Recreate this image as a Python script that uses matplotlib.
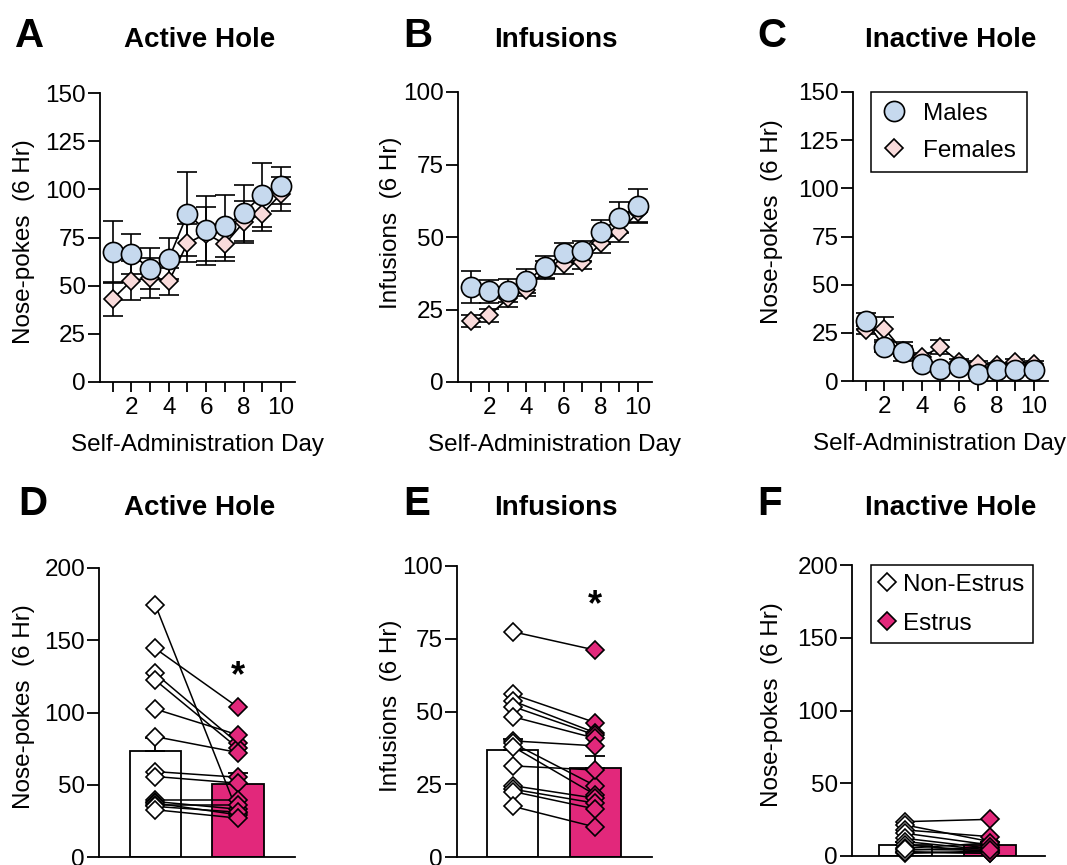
import numpy as np
import matplotlib.pyplot as plt
from matplotlib.lines import Line2D

plt.rcParams['font.family'] = ['Liberation Sans', 'DejaVu Sans']

W, H = 1067, 865

days = np.arange(1, 11)

# A - active hole (males / females), mean and SEM
active_m = [67.5, 66.4, 58.8, 64.0, 87.2, 78.7, 80.8, 87.7, 97.2, 101.9]
active_m_sem = [16.0, 10.4, 10.7, 10.7, 21.8, 18.0, 16.0, 14.7, 16.5, 9.7]
active_f = [43.1, 52.6, 54.0, 52.2, 72.1, 77.0, 71.6, 82.9, 87.4, 97.6]
active_f_sem = [8.7, 10.0, 10.4, 7.2, 10.0, 14.0, 9.0, 11.0, 9.2, 9.0]

# B - infusions
inf_m = [32.8, 31.3, 31.5, 34.8, 39.7, 44.4, 45.2, 51.8, 56.7, 60.8]
inf_m_sem = [5.6, 4.0, 3.9, 4.0, 3.8, 3.6, 3.4, 4.1, 5.3, 5.8]
inf_f = [21.0, 23.0, 28.8, 31.7, 38.6, 40.7, 41.5, 47.8, 51.8, 58.5]
inf_f_sem = [2.0, 2.2, 2.9, 2.1, 3.2, 3.6, 2.7, 3.2, 3.6, 3.2]

# C - inactive hole
inact_m = [31.2, 17.7, 15.1, 9.0, 6.4, 7.3, 3.8, 5.5, 5.9, 5.9]
inact_m_sem = [4.0, 2.5, 4.9, 2.0, 1.5, 1.5, 1.0, 1.2, 1.2, 1.2]
inact_f = [26.5, 27.2, 15.5, 12.5, 17.7, 9.9, 9.0, 8.1, 9.9, 9.0]
inact_f_sem = [2.0, 6.0, 2.5, 2.0, 3.5, 1.5, 1.5, 1.5, 1.5, 1.5]

# D-F - females by cycle phase, paired animals
groups = ['Non-Estrus', 'Estrus']
active_non = [174.7, 144.3, 127.0, 122.4, 102.4, 83.3, 59.1, 55.7, 39.6, 38.4, 37.3, 36.0, 35.0, 32.7]
active_est = [30.4, 103.6, 78.7, 75.3, 84.5, 72.3, 55.2, 51.1, 39.6, 33.1, 29.2, 36.0, 31.0, 26.9]
active_bar = [73.6, 50.4]
active_bar_sem = [9.0, 7.6]

inf_non = [77.4, 55.9, 53.6, 51.7, 48.2, 39.9, 39.1, 37.9, 31.3, 24.5, 23.3, 22.5, 17.4]
inf_est = [71.1, 46.2, 42.7, 41.9, 40.8, 38.2, 24.5, 21.4, 29.9, 20.2, 18.5, 16.5, 10.3]
inf_bar = [36.6, 30.5]
inf_bar_sem = [4.0, 4.2]

inact_non = [23.6, 21.3, 17.9, 15.6, 12.1, 9.9, 7.6, 5.3, 4.1, 3.0, 1.8, 2.5, 4.5]
inact_est = [25.2, 9.9, 13.3, 7.6, 5.3, 4.1, 3.0, 9.0, 6.0, 1.8, 3.5, 2.0, 4.0]
inact_bar = [7.6, 7.6]
inact_bar_sem = [2.0, 2.0]

blue = '#c6d9ee'
lpink = '#f9dbdb'
pink = '#e2287b'
FS = 17.5


def box(l, r, top, bot):
    return [l / W, 1 - bot / H, (r - l) / W, (bot - top) / H]


def style(ax, ymax, ystep):
    for s in ['top', 'right']:
        ax.spines[s].set_visible(False)
    for s in ['left', 'bottom']:
        ax.spines[s].set_linewidth(1.3)
    ax.set_ylim(0, ymax)
    ax.set_yticks(np.arange(0, ymax + 1, ystep))
    ax.tick_params(axis='y', length=8.5, width=1.3, pad=1.5, labelsize=FS)
    ax.tick_params(axis='x', length=7, width=1.3, pad=3.5, labelsize=FS)


def time_panel(ax, m, msem, f, fsem, ymax, ylab, lab_xy, xlab_x=0.5):
    style(ax, ymax, 25)
    ax.set_xlim(0.32, 10.75)
    ax.set_xticks(days)
    ax.set_xticklabels(['' if d % 2 else str(d) for d in days])
    ax.errorbar(days, f, yerr=fsem, fmt='none', ecolor='black', elinewidth=1.2,
                capsize=7.5, capthick=1.2, zorder=2)
    ax.errorbar(days, m, yerr=msem, fmt='none', ecolor='black', elinewidth=1.2,
                capsize=7.5, capthick=1.2, zorder=2)
    ax.plot(days, f, color='black', lw=1.2, marker='D', ms=9.3, mfc=lpink,
            mec='black', mew=1.2, zorder=3, clip_on=False)
    ax.plot(days, m, color='black', lw=1.2, marker='o', ms=14.5, mfc=blue,
            mec='black', mew=1.2, zorder=4, clip_on=False)
    ax.set_ylabel(ylab, fontsize=FS)
    ax.yaxis.set_label_coords(*lab_xy)
    ax.set_xlabel('Self-Administration Day', fontsize=FS, va='top')
    ax.xaxis.set_label_coords(xlab_x, -0.18)


def pair_panel(ax, non, est, bar, sem, ymax, ystep, ylab, lab_xy, xlim):
    style(ax, ymax, ystep)
    ax.set_xlim(*xlim)
    ax.set_xticks([])
    x = [1, 2]
    ax.bar(x, bar, width=0.62, color=['white', pink], edgecolor='black',
           linewidth=1.3, zorder=1)
    ax.errorbar(x, bar, yerr=[[0, 0], sem], fmt='none', ecolor='black',
                elinewidth=1.3, capsize=7, capthick=1.3, zorder=2)
    for a, b in zip(non, est):
        ax.plot(x, [a, b], color='black', lw=1.1, zorder=3)
    ax.plot(np.ones(len(non)), non, ls='none', marker='D', ms=9.3, mfc='white',
            mec='black', mew=1.2, zorder=4, clip_on=False)
    ax.plot(np.full(len(est), 2), est, ls='none', marker='D', ms=9.3, mfc=pink,
            mec='black', mew=1.2, zorder=4, clip_on=False)
    ax.set_ylabel(ylab, fontsize=FS)
    ax.yaxis.set_label_coords(*lab_xy)


fig = plt.figure(figsize=(W / 100, H / 100), dpi=100)

axA = fig.add_axes(box(100, 295, 93, 382))
time_panel(axA, active_m, active_m_sem, active_f, active_f_sem, 150,
           'Nose-pokes  (6 Hr)', (-0.333, 0.484))
axB = fig.add_axes(box(458, 652, 92, 382))
time_panel(axB, inf_m, inf_m_sem, inf_f, inf_f_sem, 100,
           'Infusions  (6 Hr)', (-0.289, 0.55))
axC = fig.add_axes(box(853, 1048, 92, 381))
time_panel(axC, inact_m, inact_m_sem, inact_f, inact_f_sem, 150,
           'Nose-pokes  (6 Hr)', (-0.359, 0.55), xlab_x=0.446)

hC = [Line2D([], [], ls='none', marker='o', ms=14.5, mfc=blue, mec='black', mew=1.2),
      Line2D([], [], ls='none', marker='D', ms=9.3, mfc=lpink, mec='black', mew=1.2)]
legC = axC.legend(hC, ['Males', 'Females'], loc='upper left', bbox_to_anchor=(0.092, 1.0),
                  fontsize=FS, frameon=True, fancybox=False, edgecolor='black',
                  framealpha=1, borderpad=0.45, labelspacing=0.6, handletextpad=0.7,
                  handlelength=1.0, borderaxespad=0)
legC.get_frame().set_linewidth(1.1)

axD = fig.add_axes(box(99, 295, 568, 857))
pair_panel(axD, active_non, active_est, active_bar, active_bar_sem, 200, 50,
           'Nose-pokes  (6 Hr)', (-0.327, 0.52), (0.32, 2.69))
axD.text(2, 125, '*', ha='center', va='center', fontsize=26, fontweight='bold')
axE = fig.add_axes(box(457, 652, 566, 857))
pair_panel(axE, inf_non, inf_est, inf_bar, inf_bar_sem, 100, 25,
           'Infusions  (6 Hr)', (-0.282, 0.52), (0.32, 2.69))
axE.text(2, 86.5, '*', ha='center', va='center', fontsize=26, fontweight='bold')
axF = fig.add_axes(box(852, 1045, 565, 856))
pair_panel(axF, inact_non, inact_est, inact_bar, inact_bar_sem, 200, 50,
           'Nose-pokes  (6 Hr)', (-0.358, 0.52), (0.37, 2.65))

hF = [Line2D([], [], ls='none', marker='D', ms=9.3, mfc='white', mec='black', mew=1.2),
      Line2D([], [], ls='none', marker='D', ms=9.3, mfc=pink, mec='black', mew=1.2)]
legF = axF.legend(hF, groups, loc='upper left', bbox_to_anchor=(0.098, 1.0),
                  fontsize=FS, frameon=True, fancybox=False, edgecolor='black',
                  framealpha=1, borderpad=0.35, labelspacing=0.7, handletextpad=0.33,
                  handlelength=0.65, borderaxespad=0)
legF.get_frame().set_linewidth(1.1)

# panel letters and titles
letters = [('A', 15, 47), ('B', 403, 47), ('C', 757, 47),
           ('D', 18, 515), ('E', 403, 515), ('F', 757, 515)]
for t, x, y in letters:
    fig.text(x / W, 1 - y / H, t, fontsize=29, fontweight='bold', ha='left', va='baseline')

titles = [('Active Hole', 200, 47), ('Infusions', 556, 47), ('Inactive Hole', 951, 47),
          ('Active Hole', 200, 515), ('Infusions', 556, 515), ('Inactive Hole', 951, 515)]
for t, x, y in titles:
    fig.text(x / W, 1 - y / H, t, fontsize=20, fontweight='bold', ha='center', va='baseline')

fig.savefig('out.png', dpi=100)
